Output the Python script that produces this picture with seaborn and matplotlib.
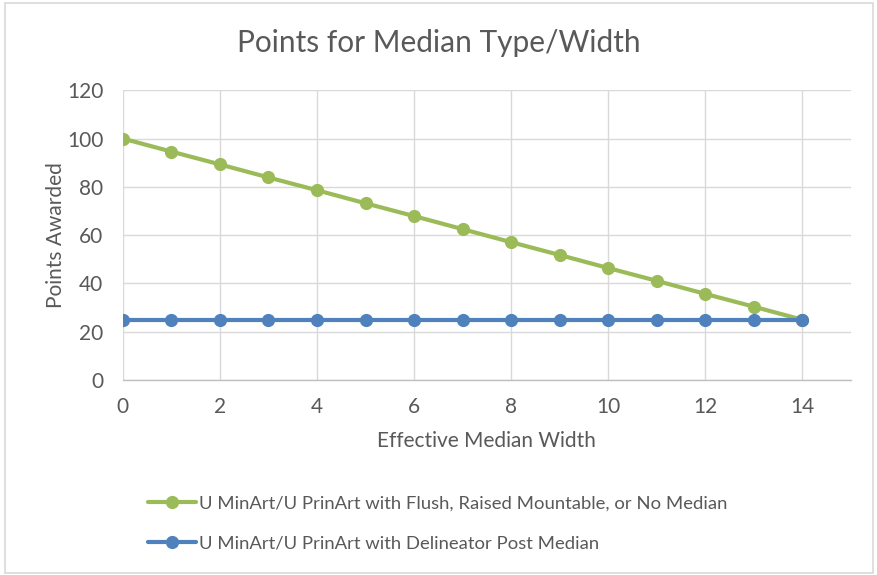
import matplotlib
matplotlib.use("Agg")
import matplotlib.pyplot as plt
import seaborn as sns
import pandas as pd
from matplotlib.patches import Rectangle
from matplotlib.lines import Line2D

widths = list(range(15))
flush_points = [100, 94.6, 89.3, 83.9, 78.6, 73.2, 67.9, 62.5, 57.1, 51.8, 46.4, 41.1, 35.7, 30.4, 25]
post_points = [25] * 15
series_names = [
    "U MinArt/U PrinArt with Flush, Raised Mountable, or No Median",
    "U MinArt/U PrinArt with Delineator Post Median",
]
x_ticks = [0, 2, 4, 6, 8, 10, 12, 14]
y_ticks = [0, 20, 40, 60, 80, 100, 120]

GREEN = "#9BBB59"
BLUE = "#4F81BD"
TEXT = "#595959"
GRID = "#D9D9D9"

sns.set_theme(style="white")
plt.rcParams["font.family"] = ["Lato", "DejaVu Sans"]

df = pd.DataFrame({
    "width": widths * 2,
    "points": flush_points + post_points,
    "series": [series_names[0]] * 15 + [series_names[1]] * 15,
})

fig = plt.figure(figsize=(8.78, 5.75), dpi=100)
ax = fig.add_axes([0.140, 0.339, 0.829, 0.504])

palette = {series_names[0]: GREEN, series_names[1]: BLUE}
for name in series_names:
    sns.lineplot(data=df[df["series"] == name], x="width", y="points",
                 color=palette[name], marker="o", markersize=9.5,
                 markeredgewidth=0, linewidth=3.0, ax=ax, legend=False)

ax.set_xlim(0, 15)
ax.set_ylim(0, 120)
ax.set_xticks(x_ticks)
ax.set_yticks(y_ticks)
ax.tick_params(axis="x", length=0, labelsize=15, labelcolor=TEXT, pad=12)
ax.tick_params(axis="y", length=0, labelsize=15, labelcolor=TEXT, pad=14)
ax.grid(True, color=GRID, linewidth=1)
ax.set_axisbelow(True)
for side in ["top", "right", "left"]:
    ax.spines[side].set_visible(False)
ax.spines["bottom"].set_color("#BFBFBF")
ax.spines["bottom"].set_linewidth(1)

ax.set_xlabel("Effective Median Width", fontsize=15, color=TEXT, labelpad=10)
ax.set_ylabel("Points Awarded", fontsize=15, color=TEXT, labelpad=1)
fig.suptitle("Points for Median Type/Width", fontsize=21.5, color=TEXT, y=0.95)

handles = [
    Line2D([], [], color=GREEN, marker="o", markersize=9.5, markeredgewidth=0, linewidth=3.0),
    Line2D([], [], color=BLUE, marker="o", markersize=9.5, markeredgewidth=0, linewidth=3.0),
]
leg = fig.legend(handles, series_names, loc="upper left",
                 bbox_to_anchor=(0.168, 0.138), bbox_transform=fig.transFigure,
                 frameon=False, fontsize=13.3, handlelength=2.6, handletextpad=0.2,
                 labelspacing=1.3, borderaxespad=0, borderpad=0)
for t in leg.get_texts():
    t.set_color(TEXT)

fig.patches.append(Rectangle((0.006, 0.004), 0.988, 0.99, transform=fig.transFigure,
                             fill=False, edgecolor="#D9D9D9", linewidth=1.2))

fig.savefig("out.png", dpi=100)
